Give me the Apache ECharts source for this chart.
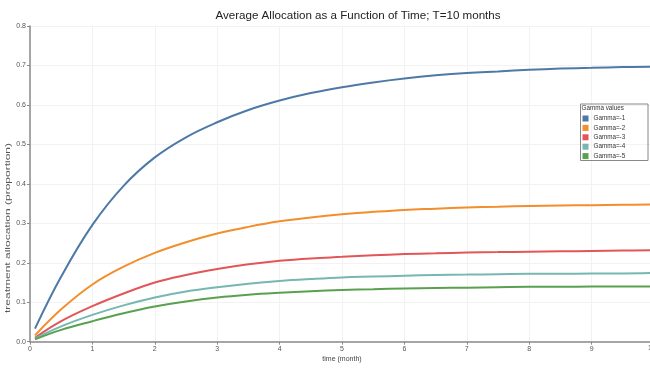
<!DOCTYPE html>
<html>
<head>
<meta charset="utf-8">
<script src="https://cdn.jsdelivr.net/npm/echarts@6/dist/echarts.min.js"></script>
<style>html,body{margin:0;padding:0;background:#fff;}#c{width:650px;height:368px;}</style>
</head>
<body>
<div id="c"></div>
<script>
const titleText = "Average Allocation as a Function of Time; T=10 months";
const xName = "time (month)";
const yName = "treatment allocation (proportion)";
const legendTitle = "Gamma values";
const lastXTick = "10";
const seriesNames = ["Gamma=-1", "Gamma=-2", "Gamma=-3", "Gamma=-4", "Gamma=-5"];
const times = [0.08, 0.5, 1, 1.5, 2, 2.5, 3, 3.5, 4, 4.5, 5, 5.5, 6, 6.5, 7, 7.5, 8, 8.5, 9, 9.5, 10];
const gamma1 = [0.033, 0.165, 0.296, 0.395, 0.467, 0.518, 0.556, 0.587, 0.611, 0.630, 0.645, 0.657, 0.667, 0.675, 0.681, 0.685, 0.689, 0.692, 0.694, 0.696, 0.697];
const gamma2 = [0.016, 0.082, 0.145, 0.190, 0.225, 0.252, 0.274, 0.291, 0.305, 0.315, 0.323, 0.329, 0.334, 0.337, 0.340, 0.342, 0.344, 0.345, 0.346, 0.347, 0.348];
const gamma3 = [0.010, 0.052, 0.090, 0.122, 0.150, 0.169, 0.184, 0.196, 0.205, 0.211, 0.215, 0.219, 0.222, 0.224, 0.226, 0.227, 0.228, 0.229, 0.230, 0.231, 0.232];
const gamma4 = [0.008, 0.039, 0.068, 0.092, 0.112, 0.127, 0.138, 0.147, 0.154, 0.159, 0.163, 0.165, 0.167, 0.169, 0.170, 0.171, 0.172, 0.172, 0.173, 0.173, 0.174];
const gamma5 = [0.006, 0.030, 0.052, 0.072, 0.089, 0.102, 0.112, 0.119, 0.124, 0.128, 0.131, 0.133, 0.135, 0.136, 0.137, 0.138, 0.139, 0.139, 0.140, 0.140, 0.140];
const colors = ["#4e79a7", "#f28e2b", "#e15759", "#76b7b2", "#59a14f"];

const allSeries = [gamma1, gamma2, gamma3, gamma4, gamma5];
const chart = echarts.init(document.getElementById('c'), null, {renderer: 'canvas'});
const font = 'Liberation Sans, Arial, sans-serif';
chart.setOption({
  animation: false,
  backgroundColor: '#fff',
  color: colors,
  title: {
    text: titleText, left: 353, top: 5, textAlign: 'center',
    textStyle: {fontFamily: font, fontSize: 11.6, fontWeight: 'normal', color: '#222'}
  },
  grid: {left: 30, top: 26, width: 624, bottom: 26.3, containLabel: false, outerBoundsMode: 'none'},
  xAxis: {
    type: 'value', min: 0, max: 10, interval: 1,
    axisLine: {lineStyle: {color: '#8a8a8a', width: 1.5}},
    axisTick: {show: true, length: 3, lineStyle: {color: '#8a8a8a'}},
    axisLabel: {fontFamily: font, fontSize: 7, color: '#555', margin: 4, showMaxLabel: true, hideOverlap: false},
    splitLine: {show: true, lineStyle: {color: '#f2f2f2', width: 1}}
  },
  yAxis: {
    type: 'value', min: 0, max: 0.8, interval: 0.1,
    axisLine: {show: true, lineStyle: {color: '#8a8a8a', width: 1.5}},
    axisTick: {show: true, length: 3, lineStyle: {color: '#8a8a8a'}},
    axisLabel: {fontFamily: font, fontSize: 7, color: '#555', margin: 4, formatter: v => v.toFixed(1)},
    splitLine: {show: true, lineStyle: {color: '#f2f2f2', width: 1}}
  },
  legend: {
    orient: 'vertical', left: 577.5, top: 109.5,
    icon: 'rect', itemWidth: 6, itemHeight: 6, itemGap: 1.4,
    textStyle: {fontFamily: font, fontSize: 6.3, color: '#333', lineHeight: 8},
    data: seriesNames
  },
  graphic: [
    {type: 'rect', shape: {x: 580.5, y: 104, width: 67.5, height: 56.5},
     style: {fill: 'rgba(0,0,0,0)', stroke: '#888', lineWidth: 1}, z: 100},
    {type: 'text', x: 581.5, y: 108.3, z: 101,
     style: {text: legendTitle, font: '6.3px ' + font, fill: '#333', verticalAlign: 'middle'}},
    {type: 'text', x: 342, y: 359, z: 101,
     style: {text: xName, font: '7px ' + font, fill: '#444', align: 'center', verticalAlign: 'middle'}},
    {type: 'text', x: 652, y: 348.5, z: 101,
     style: {text: lastXTick, font: '7px ' + font, fill: '#555', align: 'center', verticalAlign: 'middle'}},
    {type: 'text', x: 8, y: 228, rotation: Math.PI / 2, scaleX: 1.6, z: 101,
     style: {text: yName, font: '7.5px ' + font, fill: '#555', align: 'center', verticalAlign: 'middle'}}
  ],
  series: allSeries.map((arr, i) => ({
    name: seriesNames[i], type: 'line', smooth: 0.4, showSymbol: false,
    lineStyle: {width: 2, color: colors[i]},
    itemStyle: {color: colors[i]},
    data: times.map((t, j) => [t, arr[j]])
  }))
});
</script>
</body>
</html>
